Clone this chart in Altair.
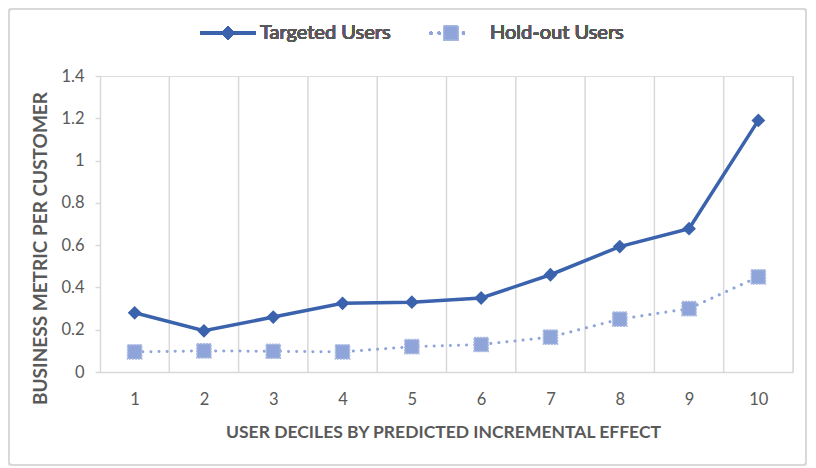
import altair as alt
import pandas as pd

deciles = [1, 2, 3, 4, 5, 6, 7, 8, 9, 10]
targeted = [0.28, 0.195, 0.26, 0.325, 0.33, 0.35, 0.46, 0.593, 0.678, 1.19]
holdout = [0.095, 0.10, 0.098, 0.095, 0.12, 0.13, 0.165, 0.25, 0.30, 0.45]
series_names = ["Targeted Users", "Hold-out Users"]
y_ticks = [0, 0.2, 0.4, 0.6, 0.8, 1.0, 1.2, 1.4]

C_T = "#3B62AD"
C_H = "#8FA4D8"
GRID = "#D9D9D9"
TXT = "#595959"
FONT = "Lato"

df = pd.DataFrame({
    "decile": deciles * 2,
    "value": targeted + holdout,
    "series": [series_names[0]] * len(deciles) + [series_names[1]] * len(deciles),
})
bounds = pd.DataFrame({"b": [d + 0.5 for d in deciles]})

xscale = alt.Scale(domain=[0.5, 10.5], nice=False, zero=False)
yscale = alt.Scale(domain=[0, 1.4], nice=False)

xaxis = alt.Axis(
    title="USER DECILES BY PREDICTED INCREMENTAL EFFECT",
    values=deciles, format="d", grid=False, ticks=False, tickSize=0,
    domainColor=GRID, domainWidth=1.5, labelPadding=19,
    labelFont=FONT, labelFontSize=16.5, labelColor=TXT,
    titleFont=FONT, titleFontSize=17.5, titleFontWeight="bold", titleColor=TXT,
    titleX=343, titleY=60, titleAlign="center", titleBaseline="middle",
)
yaxis = alt.Axis(
    title="BUSINESS METRIC PER CUSTOMER",
    values=y_ticks, format=".1~f", grid=False,
    tickColor=GRID, tickSize=5, tickWidth=1.5,
    domainColor=GRID, domainWidth=1.5, labelPadding=11,
    labelFont=FONT, labelFontSize=16.5, labelColor=TXT,
    titleFont=FONT, titleFontSize=19, titleFontWeight="bold", titleColor=TXT,
    titleX=-60, titleY=172, titleAlign="center", titleBaseline="middle", titleAngle=270,
)

base = alt.Chart(df)

grid = alt.Chart(bounds).mark_rule(color=GRID, strokeWidth=1.5).encode(
    x=alt.X("b:Q", scale=xscale, axis=xaxis)
)

h = base.transform_filter(alt.datum.series == series_names[1])
t = base.transform_filter(alt.datum.series == series_names[0])

enc = dict(
    x=alt.X("decile:Q", scale=xscale, axis=xaxis),
    y=alt.Y("value:Q", scale=yscale, axis=yaxis),
)

h_line = h.mark_line(color=C_H, strokeWidth=3, strokeDash=[0.1, 8], strokeCap="round").encode(**enc)
h_pts = h.mark_point(shape="square", filled=True, size=200, color=C_H, opacity=1,
                     stroke="#A9B9E2", strokeWidth=1.5, strokeDash=[2, 1]).encode(**enc)
t_line = t.mark_line(color=C_T, strokeWidth=3.5).encode(**enc)
t_pts = t.mark_point(shape="diamond", filled=True, size=190, color=C_T, opacity=1).encode(**enc)

LY = -43
leg_t_line = alt.Chart(df).mark_rule(color=C_T, strokeWidth=3.5).encode(
    x=alt.value(100), x2=alt.value(156), y=alt.value(LY))
leg_t_pt = alt.Chart(df).mark_point(shape="diamond", filled=True, size=190, color=C_T, opacity=1).encode(
    x=alt.value(128), y=alt.value(LY))
leg_t_txt = alt.Chart(df).mark_text(text=series_names[0], align="left", baseline="middle",
                                      font=FONT, fontSize=20, color=TXT).encode(
    x=alt.value(160), y=alt.value(LY))
leg_h_line = alt.Chart(df).mark_rule(color=C_H, strokeWidth=3, strokeDash=[0.1, 8], strokeCap="round").encode(
    x=alt.value(331), x2=alt.value(371), y=alt.value(LY))
leg_h_pt = alt.Chart(df).mark_point(shape="square", filled=True, size=200, color=C_H, opacity=1,
                                    stroke="#A9B9E2", strokeWidth=1.5, strokeDash=[2, 1]).encode(
    x=alt.value(351), y=alt.value(LY))
leg_h_txt = alt.Chart(df).mark_text(text=series_names[1], align="left", baseline="middle",
                                      font=FONT, fontSize=20, color=TXT).encode(
    x=alt.value(390), y=alt.value(LY))

border = alt.Chart(df).mark_rect(fill="white", fillOpacity=0, stroke=GRID, strokeWidth=1.5,
                                 cornerRadius=3).encode(
    x=alt.value(-91), x2=alt.value(706), y=alt.value(-67), y2=alt.value(389))

chart = alt.layer(
    border, grid, h_line, h_pts, t_line, t_pts,
    leg_t_line, leg_t_pt, leg_t_txt, leg_h_line, leg_h_pt, leg_h_txt,
).properties(
    width=693, height=296,
    padding={"left": 92, "top": 68, "right": 15, "bottom": 96},
    autosize="none",
).configure_view(stroke=None).configure(background="white")

chart.save("out.html", embed_options={"renderer": "svg", "actions": False})
